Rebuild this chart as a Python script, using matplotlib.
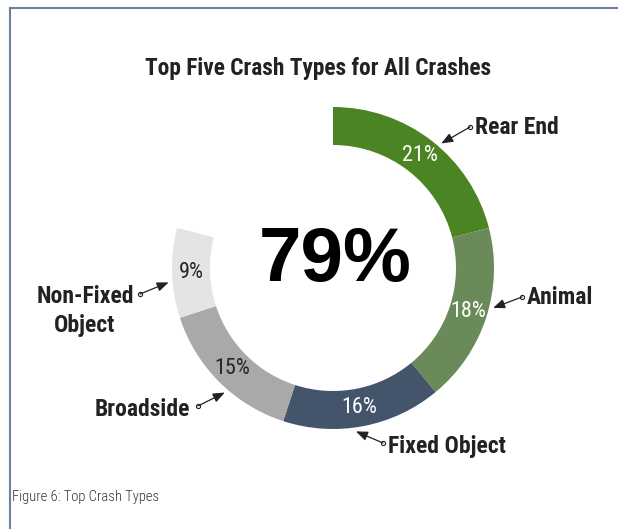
import matplotlib.pyplot as plt
import numpy as np

# crash type shares (percent of all crashes)
crash_types = ['Rear End', 'Animal', 'Fixed Object', 'Broadside', 'Non-Fixed\nObject']
shares = [21, 18, 16, 15, 9]
colors = ['#4b8423', '#6a8a59', '#44546b', '#a9a9a9', '#e4e4e4']
pct_colors = ['white', 'white', 'white', '#262626', '#262626']
total_share = sum(shares)

COND = ['Roboto Condensed', 'DejaVu Sans']
W, H = 618, 529

fig = plt.figure(figsize=(W / 100, H / 100), dpi=100)
ax = fig.add_axes([0, 0, 1, 1])


def Y(y):
    # image-style y (from top) to axis y
    return H - y


cx, cy = 333, Y(268)
r_out, ring = 161, 38

vals = shares + [100 - total_share]
ax.pie(vals, colors=colors + ['none'], startangle=90, counterclock=False,
       radius=r_out, center=(cx, cy), frame=True,
       wedgeprops=dict(width=ring, edgecolor='none'))
ax.set_xlim(0, W)
ax.set_ylim(0, H)
ax.axis('off')

# frame lines at top and left
ax.plot([10, W], [Y(8), Y(8)], color='#6e819b', lw=1.5)
ax.plot([10, 10], [Y(8), 0], color='#6e819b', lw=1.5)

# percentage labels in the middle of each ring segment
start = 90.0
r_mid = r_out - ring / 2
for v, c in zip(shares, pct_colors):
    mid = np.deg2rad(start - v * 3.6 / 2)
    ax.text(cx + r_mid * np.cos(mid), cy + r_mid * np.sin(mid), f'{v}%',
            ha='center', va='center', fontsize=16, color=c, family=COND)
    start -= v * 3.6

ax.text(cx + 2, Y(262), f'{total_share}%', ha='center', va='center',
        fontsize=55, fontweight='bold', color='black', family='Liberation Sans')

ax.text(318, Y(68), 'Top Five Crash Types for All Crashes', ha='center', va='center',
        fontsize=16.8, fontweight='bold', color='#222222', family=COND)

# callouts: (tip angle, tail x, tail y, text x, text y, ha)
callouts = [
    (49, 470, 127, 475, 127, 'left'),
    (-14, 522, 297, 527, 297, 'left'),
    (-82, 383, 443, 388, 446, 'left'),
    (-131, 198, 406, 190, 410, 'right'),
    (185, 140, 294, 85, 311, 'center'),
]
for name, (ang, tx, ty, lx, ly, ha) in zip(crash_types, callouts):
    a = np.deg2rad(ang)
    tip = (cx + 165 * np.cos(a), cy + 165 * np.sin(a))
    ax.annotate('', xy=tip, xytext=(tx, Y(ty)),
                arrowprops=dict(arrowstyle='-|>,head_length=0.7,head_width=0.28',
                                color='#222222', lw=0.9, shrinkA=0, shrinkB=0))
    ax.plot(tx, Y(ty), 'o', ms=3, mfc='white', mec='#222222', mew=0.8)
    ax.text(lx, Y(ly), name, ha=ha, va='center', fontsize=17, fontweight='bold',
            color='#222222', family=COND, linespacing=1.35)

ax.text(12, Y(497), 'Figure 6: Top Crash Types', ha='left', va='center',
        fontsize=10.5, fontweight='light', color='#333333', family=COND)

fig.savefig('out.png', dpi=100)
